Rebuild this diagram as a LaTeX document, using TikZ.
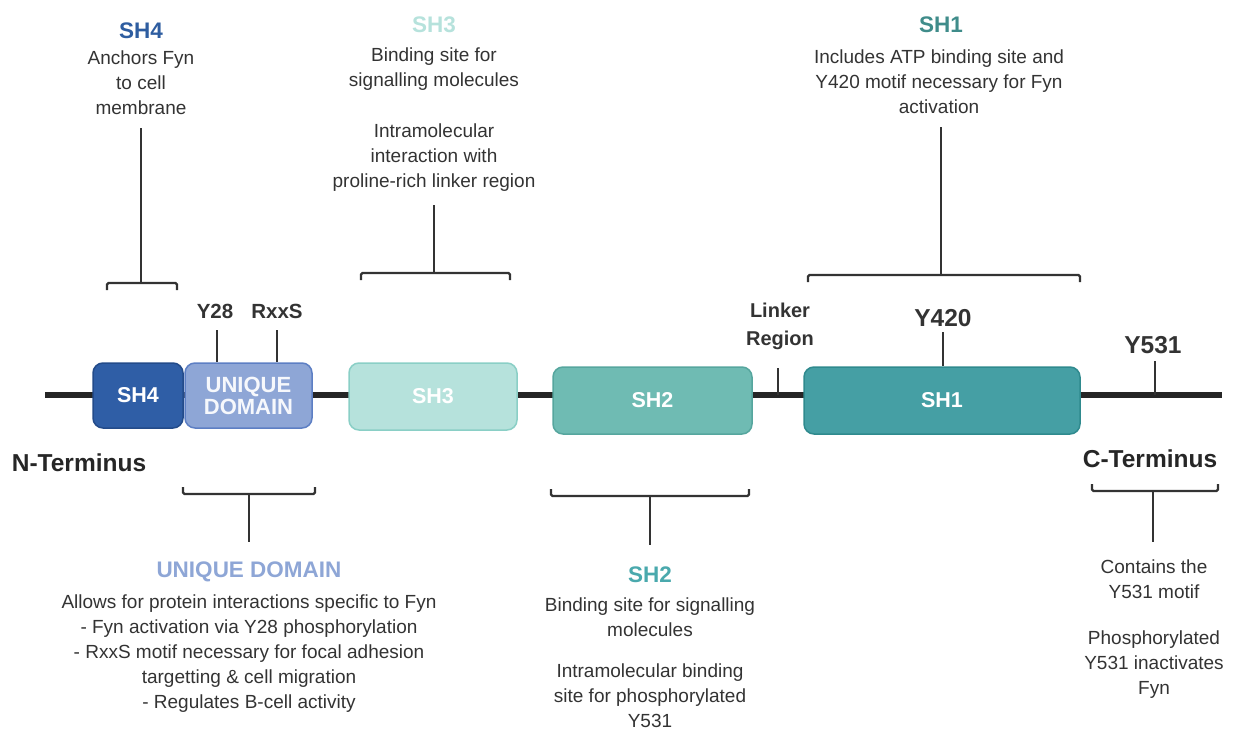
\documentclass[tikz,border=0pt]{standalone}
\usepackage{fontspec}
\setmainfont{Liberation Sans}
\definecolor{txt}{HTML}{333333}
\definecolor{sh4f}{HTML}{2F5EA6}\definecolor{sh4d}{HTML}{234B8A}
\definecolor{udf}{HTML}{8EA6D6}\definecolor{udd}{HTML}{5D7FC4}
\definecolor{sh3f}{HTML}{B6E2DC}\definecolor{sh3d}{HTML}{8ACFC6}
\definecolor{sh2f}{HTML}{6FBBB3}\definecolor{sh2d}{HTML}{56A69E}
\definecolor{sh1f}{HTML}{459FA4}\definecolor{sh1d}{HTML}{2F8A8E}
\definecolor{sh4t}{HTML}{2E5DA0}\definecolor{sh1t}{HTML}{3F8C8A}
\definecolor{sh2t}{HTML}{4AA9AD}
\begin{document}
\begin{tikzpicture}[x=1pt,y=-1pt,
  dom/.style={draw=#1,line width=1.5pt,rounded corners=10pt,inner sep=0pt,text=white,
    font=\fontsize{21.5}{22}\selectfont\bfseries,align=center},
  brk/.style={draw=txt,line width=2.3pt,rounded corners=1.5pt},
  tick/.style={draw=txt,line width=2.5pt},
  body/.style={text=txt,font=\fontsize{19}{25}\selectfont,align=center,inner sep=0pt},
  ttl/.style={font=\fontsize{22.5}{24}\selectfont\bfseries,inner sep=0pt},
  lab/.style={text=txt,font=\fontsize{20.5}{28}\selectfont\bfseries,align=center,inner sep=0pt},
  big/.style={text=black!85,font=\fontsize{24.5}{26}\selectfont\bfseries,inner sep=0pt}]
\useasboundingbox (0,0) rectangle (1236,733);
% backbone
\coordinate (nl) at (45,395);
\coordinate (nr) at (1222,395);
\draw[line width=6.5pt,draw=black!85] (nl) -- (nr);
% domains
\node[dom=sh4d,fill=sh4f,minimum width=90pt,minimum height=65pt] (sh4) at (138,395.5) {SH4};
\node[dom=udd,fill=udf,minimum width=127pt,minimum height=65pt,text=white!92!udf,font=\fontsize{22}{22}\selectfont\bfseries] (ud) at (248.5,395.5) {UNIQUE\\DOMAIN};
\node[dom=sh3d,fill=sh3f,minimum width=168pt,minimum height=67pt] (sh3) at (433,396.5) {SH3};
\node[dom=sh2d,fill=sh2f,minimum width=199pt,minimum height=67pt] (sh2) at (652.5,400.5) {SH2};
\node[dom=sh1d,fill=sh1f,minimum width=276pt,minimum height=67pt] (sh1) at (942,400.5) {SH1};
% ticks
\coordinate (t28) at (217,330);
\coordinate (trx) at (277,330);
\coordinate (tlk) at (778,368);
\coordinate (t420) at (943,332);
\coordinate (t531) at (1155,361);
\draw[tick] (t28) -- (t28 |- ud.north);
\draw[tick] (trx) -- (trx |- ud.north);
\draw[tick] (tlk) -- (tlk |- nl);
\draw[tick] (t420) -- (t420 |- sh1.north);
\draw[tick] (t531) -- (t531 |- nl);
\node[lab] (ly28) at (215,311) {Y28};
\node[lab] (lrx) at (277,311) {RxxS};
\node[lab,font=\fontsize{20}{28}\selectfont\bfseries] (llk) at (780,326) {Linker\\Region};
\node[big,text=txt] (l420) at (943,318) {Y420};
\node[big,text=txt] (l531) at (1153,345) {Y531};
\node[big] (nterm) at (79,463) {N-Terminus};
\node[big] (cterm) at (1150,459) {C-Terminus};
% top brackets
\coordinate (a1) at (107,290);\coordinate (a2) at (177,290);\coordinate (a3) at (141,283);\coordinate (a4) at (141,128);
\draw[brk] (a1) -- (a1 |- a3) -- (a2 |- a3) -- (a2);
\draw[brk] (a3) -- (a4);
\coordinate (b1) at (361,280);\coordinate (b2) at (510,280);\coordinate (b3) at (434,273);\coordinate (b4) at (434,205);
\draw[brk] (b1) -- (b1 |- b3) -- (b2 |- b3) -- (b2);
\draw[brk] (b3) -- (b4);
\coordinate (c1) at (808,282);\coordinate (c2) at (1080,282);\coordinate (c3) at (941,275);\coordinate (c4) at (941,127);
\draw[brk] (c1) -- (c1 |- c3) -- (c2 |- c3) -- (c2);
\draw[brk] (c3) -- (c4);
% bottom brackets
\coordinate (d1) at (183,487);\coordinate (d2) at (315,487);\coordinate (d3) at (249,494);\coordinate (d4) at (249,542);
\draw[brk] (d1) -- (d1 |- d3) -- (d2 |- d3) -- (d2);
\draw[brk] (d3) -- (d4);
\coordinate (e1) at (551,489);\coordinate (e2) at (749,489);\coordinate (e3) at (650,496);\coordinate (e4) at (650,545);
\draw[brk] (e1) -- (e1 |- e3) -- (e2 |- e3) -- (e2);
\draw[brk] (e3) -- (e4);
\coordinate (f1) at (1092,484);\coordinate (f2) at (1218,484);\coordinate (f3) at (1153,491);\coordinate (f4) at (1153,542);
\draw[brk] (f1) -- (f1 |- f3) -- (f2 |- f3) -- (f2);
\draw[brk] (f3) -- (f4);
% top texts
\node[ttl,text=sh4t] (tsh4) at (141,31) {SH4};
\node[body,anchor=north] (xsh4) at (141,51) {Anchors Fyn\\to cell\\membrane};
\node[ttl,text=sh3f] (tsh3) at (434,25) {SH3};
\node[body,anchor=north] (xsh3a) at (434,48) {Binding site for\\signalling molecules};
\node[body,anchor=north] (xsh3b) at (434,124) {Intramolecular\\interaction with\\proline-rich linker region};
\node[ttl,text=sh1t] (tsh1) at (941,25) {SH1};
\node[body,anchor=north] (xsh1) at (939,50) {Includes ATP binding site and\\Y420 motif necessary for Fyn\\activation};
% bottom texts
\node[ttl,text=udf] (tud) at (249,572) {UNIQUE DOMAIN};
\node[body,anchor=north] (xud) at (249,594.5) {Allows for protein interactions specific to Fyn\\- Fyn activation via Y28 phosphorylation\\- RxxS motif necessary for focal adhesion\\targetting \& cell migration\\- Regulates B-cell activity};
\node[ttl,text=sh2t] (tsh2) at (650,575) {SH2};
\node[body,anchor=north] (xsh2a) at (650,597.5) {Binding site for signalling\\molecules};
\node[body,anchor=north] (xsh2b) at (650,664) {Intramolecular binding\\site for phosphorylated\\Y531};
\node[body,anchor=north] (xc1) at (1154,559.5) {Contains the\\Y531 motif};
\node[body,anchor=north] (xc2) at (1154,630.5) {Phosphorylated\\Y531 inactivates\\Fyn};
\end{tikzpicture}
\end{document}
